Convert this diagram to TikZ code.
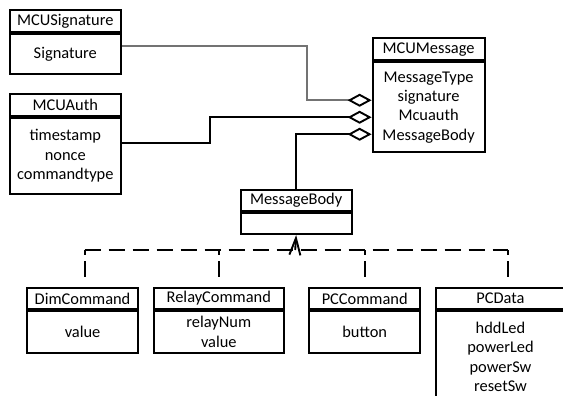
\documentclass[tikz,border=0pt]{standalone}
\usepackage{fontspec}
\setmainfont{Carlito}
\usetikzlibrary{arrows.meta}
\begin{document}
\begin{tikzpicture}[x=1pt,y=-1pt,
  box/.style={draw, line width=2pt, inner sep=0pt, align=center,
    font=\fontsize{16.4}{19.3}\selectfont},
  hdr/.style={box, minimum height=22pt},
  conn/.style={line width=1.9pt},
  agg/.style={conn, -{Diamond[open, length=24pt, width=13pt, color=black]}},
  hdash/.style={conn, dash pattern=on 16pt off 8pt},
  vdash/.style={conn, dash pattern=on 5pt off 6pt on 16pt off 12pt},
  inh/.style={conn, -{Straight Barb[length=17pt, width=11pt]}}]
\useasboundingbox (0,0) rectangle (563,396);
\clip (0,0) rectangle (563,396);

% MCUSignature
\node[hdr, minimum width=111.4pt, anchor=north west] (sigH) at (8.6,9.3) {MCUSignature};
\node[box, minimum width=111.4pt, minimum height=40pt, anchor=north] (sig) at (sigH.south) {Signature};

% MCUAuth
\node[hdr, minimum width=111.4pt, anchor=north west] (authH) at (8.6,93) {MCUAuth};
\node[box, minimum width=111.4pt, minimum height=75.7pt, anchor=north] (auth) at (authH.south) {timestamp\\nonce\\commandtype};

% MCUMessage
\node[hdr, minimum width=112pt, anchor=north west] (msgH) at (371.6,37.5) {MCUMessage};
\node[box, minimum width=112pt, minimum height=89.5pt, anchor=north] (msg) at (msgH.south) {MessageType\\signature\\Mcuauth\\MessageBody};

% MessageBody
\node[hdr, minimum width=111.3pt, minimum height=21pt, anchor=north west] (mbH) at (239.5,189) {MessageBody};
\node[box, minimum width=111.3pt, minimum height=21pt, anchor=north] (mb) at (mbH.south) {};

% Bottom classes
\node[hdr, minimum width=111.3pt, minimum height=21pt, anchor=north west] (dimH) at (25.9,287) {DimCommand};
\node[box, minimum width=111.3pt, minimum height=42pt, anchor=north] (dim) at (dimH.south) {value};

\node[hdr, minimum width=130.4pt, minimum height=21pt, anchor=north west] (relH) at (152.6,287) {RelayCommand};
\node[box, minimum width=130.4pt, minimum height=42pt, anchor=north] (rel) at (relH.south) {relayNum\\value};

\node[hdr, minimum width=111.4pt, minimum height=21pt, anchor=north west] (pccH) at (308,287) {PCCommand};
\node[box, minimum width=111.4pt, minimum height=42pt, anchor=north] (pcc) at (pccH.south) {button};

\node[hdr, minimum width=129pt, minimum height=21pt, anchor=north west] (pcdH) at (435,287) {PCData};
\node[box, minimum width=129pt, minimum height=92pt, anchor=north] (pcd) at (pcdH.south) {hddLed\\powerLed\\powerSw\\resetSw};

% Aggregations
\draw[agg, draw=black!55] ([yshift=8.7pt]sig.east) -- ++(185,0) |- ([yshift=7pt]msg.west);
\draw[agg] ([yshift=12.9pt]auth.east) -- ++(88,0) |- ([yshift=-10pt]msg.west);
\draw[agg] (mbH.north) |- ([yshift=-27pt]msg.west);

% Realizations
\coordinate (j) at (295.2,250);
\coordinate (dimC) at ([xshift=2pt]dimH.north);
\coordinate (pcdC) at ([xshift=7.5pt]pcdH.north);
\draw[hdash] (dimC |- j) -- (pcdC |- j);
\draw[vdash] (dimC |- j) -- (dimC);
\draw[vdash] (relH.north |- j) -- (relH.north);
\draw[vdash] (pccH.north |- j) -- (pccH.north);
\draw[vdash] (pcdC |- j) -- (pcdC);
\draw[inh] (j) -- (mb.south);
\end{tikzpicture}
\end{document}
